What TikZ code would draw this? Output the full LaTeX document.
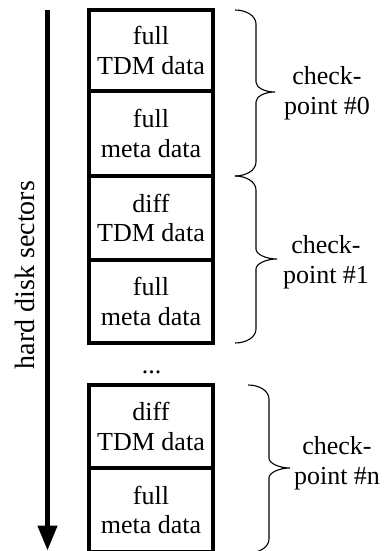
\documentclass[tikz,border=0pt]{standalone}
\usepackage{fontspec}
\setmainfont{Liberation Serif}
\usetikzlibrary{arrows.meta}
\newcommand\mybrace[6]{%
 \draw[bracestyle] (#1,#4) .. controls ({#1+11.5},#4) and (#2,{#4+6}) .. (#2,{#4+14})
 -- (#2,{#5-10}) .. controls (#2,{#5-4.5}) and ({#3-10.5},#5) .. (#3,#5)
 .. controls ({#3-10.5},#5) and (#2,{#5+4.5}) .. (#2,{#5+10})
 -- (#2,{#6-14}) .. controls (#2,{#6-6}) and ({#1+11.5},#6) .. (#1,#6);}
\begin{document}
\begin{tikzpicture}[x=1pt,y=-1pt,
  cell/.style={draw, line width=4pt, minimum width=124pt, inner sep=0pt, align=center, font=\fontsize{26}{29.5}\selectfont},
  lab/.style={align=center, font=\fontsize{26}{29.5}\selectfont, inner sep=0pt},
  bracestyle/.style={line width=1.1pt},
  axis/.style={line width=4.5pt, -{Triangle[width=19pt,length=25pt]}}]
\useasboundingbox (0,0) rectangle (386,551);
% boxes
\node[cell, minimum height=81pt] (b1) at (151,50.5) {full\\TDM data};
\node[cell, minimum height=85pt] (b2) at (151,133.5) {full\\meta data};
\node[cell, minimum height=84pt] (b3) at (151,218) {diff\\TDM data};
\node[cell, minimum height=83pt] (b4) at (151,301.5) {full\\meta data};
\node[lab] (dots) at (151.5,372.5) {...};
\node[cell, minimum height=83pt] (b5) at (151,426.5) {diff\\TDM data};
\node[cell, minimum height=84pt] (b6) at (151,510) {full\\meta data};
% axis
\coordinate (atop) at (47.5,10);
\coordinate (abot) at (47.5,550.5);
\draw[axis] (atop) -- (abot);
\node[rotate=90, font=\fontsize{28}{32}\selectfont, inner sep=0pt] (hds) at (25,275) {hard disk sectors};
% braces
\mybrace{235}{256}{275}{10}{92}{176}
\mybrace{235}{256}{277}{176}{259}{343}
\mybrace{248}{269}{290}{385}{468}{553}
% labels
\node[lab] (c0) at (327,93) {check-\\point \#0};
\node[lab] (c1) at (326,262) {check-\\point \#1};
\node[lab] (cn) at (337,463) {check-\\point \#n};
\end{tikzpicture}
\end{document}
